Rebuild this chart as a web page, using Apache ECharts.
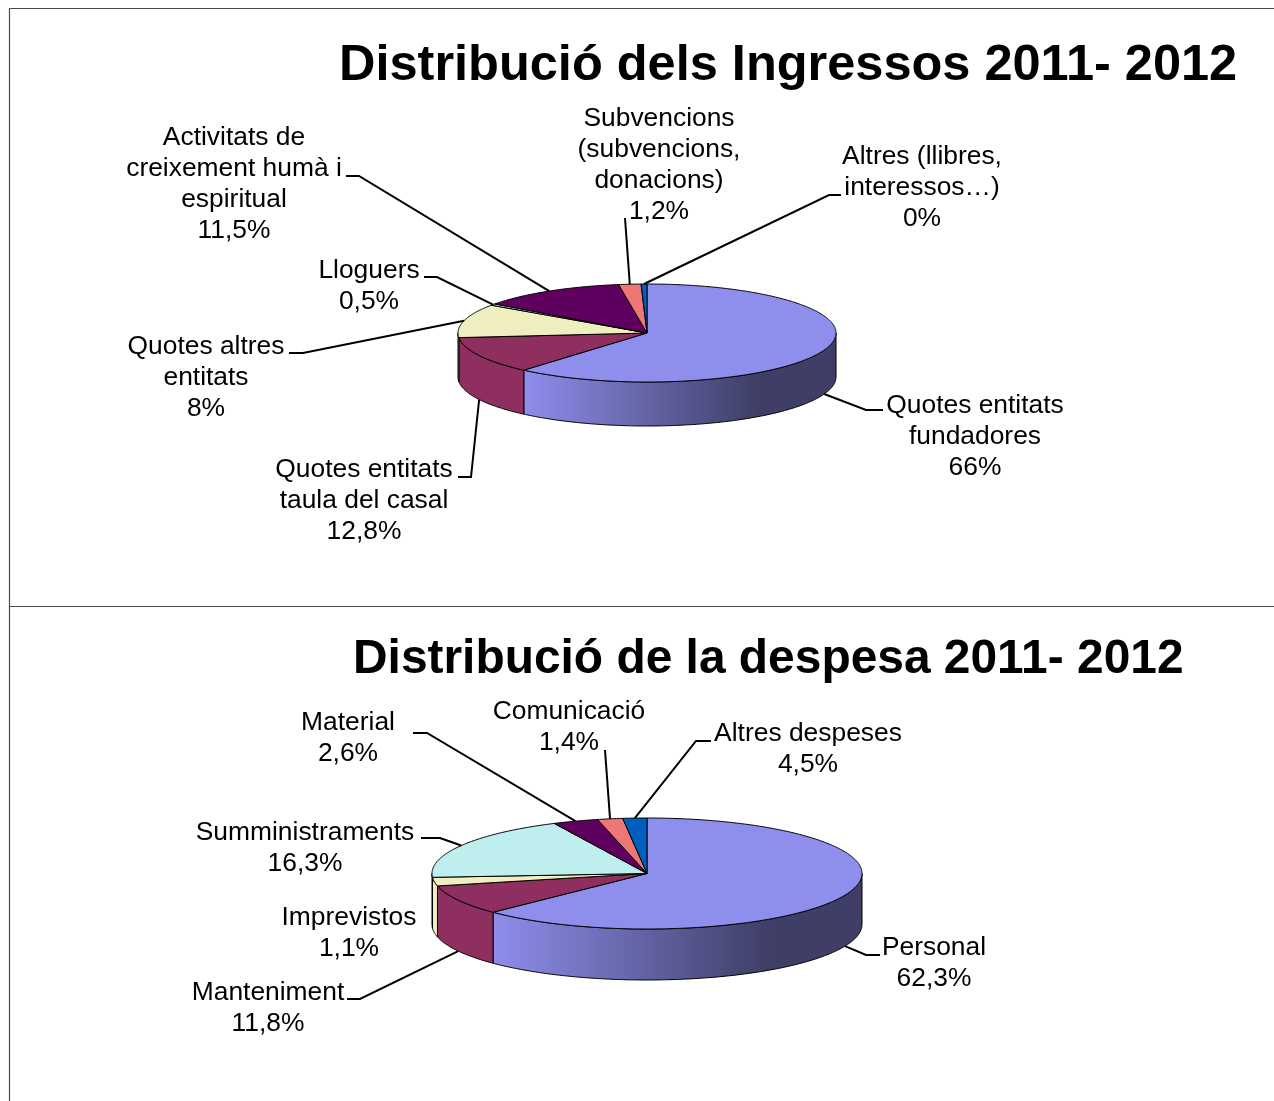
<!DOCTYPE html>
<html>
<head>
<meta charset="utf-8">
<style>
  html, body { margin: 0; padding: 0; background: #fff; }
  #main { width: 1274px; height: 1101px; }
</style>
<script src="https://cdn.jsdelivr.net/npm/echarts@6/dist/echarts.min.js"></script>
</head>
<body>
<div id="main"></div>
<script>
var incomeTitle = "Distribució dels Ingressos 2011- 2012";
var incomeCategories = ["Quotes entitats\nfundadores", "Quotes entitats\ntaula del casal", "Quotes altres\nentitats", "Lloguers", "Activitats de\ncreixement humà i\nespiritual", "Subvencions\n(subvencions,\ndonacions)", "Altres (llibres,\ninteressos…)"];
// percentages as printed on the labels
var incomeLabels = [66, 12.8, 8, 0.5, 11.5, 1.2, 0];
// share of the circle each slice really takes in the picture (differs from the printed one)
var incomeSlices = [61.3, 12.2, 11.1, 0.5, 12.5, 1.9, 0.5];

var expenseTitle = "Distribució de la despesa 2011- 2012";
var expenseCategories = ["Personal", "Manteniment", "Imprevistos", "Sumministraments", "Material", "Comunicació", "Altres despeses"];
var expenseLabels = [62.3, 11.8, 1.1, 16.3, 2.6, 1.4, 4.5];
var expenseSlices = [62.7, 8.7, 2.5, 19.0, 3.4, 1.9, 1.8];

var sliceColors = ["#8E8EED", "#8E2F5F", "#EEEEBE", "#BEEEEE", "#5F005F", "#ED7777", "#005FBE"];
var shadeColor = "#3E3E66";
var fontName = '"Liberation Sans", Arial, sans-serif';

// label layout: [centre x, top y], then elbow of the leader line and its end near the text
var incomeLayout = [
  { text: [975, 390], leader: [[866, 410], [883, 410]] },
  { text: [364, 454], leader: [[471, 477], [458, 477]] },
  { text: [206, 331], leader: [[303, 353], [289, 353]] },
  { text: [369, 255], leader: [[437, 277], [424, 277]] },
  { text: [234, 122], leader: [[359, 176], [346, 176]] },
  { text: [659, 103], leader: [[625, 218]] },
  { text: [922, 141], leader: [[829, 195], [841, 195]] }
];
var expenseLayout = [
  { text: [934, 932], leader: [[866, 955], [880, 955]] },
  { text: [268, 977], leader: [[360, 999], [347, 999]] },
  { text: [349, 902], leader: null },
  { text: [305, 817], leader: [[440, 838], [421, 838]] },
  { text: [348, 707], leader: [[427, 733], [413, 733]] },
  { text: [569, 696], leader: [[605, 750]] },
  { text: [808, 718], leader: [[696, 741], [711, 741]] }
];

function ellipsePoint(pie, angle, drop) {
  return [pie.cx + pie.rx * Math.sin(angle), pie.cy - pie.ry * Math.cos(angle) + (drop || 0)];
}

function arcPoints(pie, from, to, drop) {
  var pts = [];
  var steps = Math.max(2, Math.ceil((to - from) / 0.01));
  for (var i = 0; i <= steps; i++) {
    pts.push(ellipsePoint(pie, from + (to - from) * i / steps, drop));
  }
  return pts;
}

// start and end angle of every slice, clockwise from 12 o'clock
function sliceAngles(slices) {
  var total = slices.reduce(function (a, b) { return a + b; }, 0);
  var sum = 0;
  return slices.map(function (v) {
    var start = sum / total * Math.PI * 2;
    sum += v;
    return [start, sum / total * Math.PI * 2];
  });
}

function pieSeries(pie, slices) {
  var angles = sliceAngles(slices);
  return {
    type: "custom",
    coordinateSystem: "none",
    silent: true,
    animation: false,
    clip: false,
    data: slices,
    renderItem: function (params) {
      var i = params.dataIndex;
      var a0 = angles[i][0], a1 = angles[i][1];
      var children = [];
      var from = Math.max(a0, Math.PI / 2), to = Math.min(a1, Math.PI * 1.5);
      if (to > from) {
        var side = arcPoints(pie, from, to, 0).concat(arcPoints(pie, from, to, pie.depth).reverse());
        var fill = i === 0 ? new echarts.graphic.LinearGradient(1, 0, 0, 0, [
          { offset: 0, color: shadeColor },
          { offset: 0.25, color: shadeColor },
          { offset: 1, color: sliceColors[i] }
        ]) : sliceColors[i];
        children.push({
          type: "polygon",
          shape: { points: side },
          style: { fill: fill, stroke: "#000", lineWidth: 1 }
        });
      }
      children.push({
        type: "polygon",
        z2: 5,
        shape: { points: [[pie.cx, pie.cy]].concat(arcPoints(pie, a0, a1, 0)) },
        style: { fill: sliceColors[i], stroke: "#000", lineWidth: 1 }
      });
      return { type: "group", children: children };
    }
  };
}

function labelSeries(pie, slices, names, labels, layout) {
  var angles = sliceAngles(slices);
  return {
    type: "custom",
    coordinateSystem: "none",
    silent: true,
    animation: false,
    clip: false,
    z: 3,
    data: names,
    renderItem: function (params) {
      var i = params.dataIndex;
      var item = layout[i];
      var mid = (angles[i][0] + angles[i][1]) / 2;
      var front = mid > Math.PI / 2 && mid < Math.PI * 1.5;
      var children = [{
        type: "text",
        style: {
          x: item.text[0],
          y: item.text[1],
          text: names[i] + "\n" + String(labels[i]).replace(".", ",") + "%",
          fill: "#000",
          font: "26.4px " + fontName,
          lineHeight: 31,
          align: "center",
          verticalAlign: "top"
        }
      }];
      if (item.leader) {
        // leader starts on the rim at the middle of the slice
        children.push({
          type: "polyline",
          shape: { points: [ellipsePoint(pie, mid, front ? pie.depth : 0)].concat(item.leader) },
          style: { fill: null, stroke: "#000", lineWidth: 2 }
        });
      }
      return { type: "group", children: children };
    }
  };
}

function frameLine(x1, y1, x2, y2) {
  return {
    type: "line",
    shape: { x1: x1, y1: y1, x2: x2, y2: y2 },
    style: { stroke: "#4a4a4a", lineWidth: 1.2 },
    silent: true
  };
}

var incomePie = { cx: 647, cy: 333, rx: 189, ry: 49, depth: 44 };
var expensePie = { cx: 647, cy: 873.5, rx: 215, ry: 55.5, depth: 51 };

var chart = echarts.init(document.getElementById("main"), null, { renderer: "canvas" });
chart.setOption({
  backgroundColor: "#fff",
  animation: false,
  title: [
    { text: incomeTitle, left: 339, top: 41, padding: 0, textStyle: { fontFamily: fontName, fontSize: 50.5, fontWeight: "bold", color: "#000" } },
    { text: expenseTitle, left: 353, top: 636, padding: 0, textStyle: { fontFamily: fontName, fontSize: 47.9, fontWeight: "bold", color: "#000" } }
  ],
  graphic: [
    frameLine(9.5, 8.5, 1274, 8.5),
    frameLine(9.5, 8.5, 9.5, 1101),
    frameLine(9.5, 606.5, 1274, 606.5)
  ],
  series: [
    pieSeries(incomePie, incomeSlices),
    labelSeries(incomePie, incomeSlices, incomeCategories, incomeLabels, incomeLayout),
    pieSeries(expensePie, expenseSlices),
    labelSeries(expensePie, expenseSlices, expenseCategories, expenseLabels, expenseLayout)
  ]
});
</script>
</body>
</html>
